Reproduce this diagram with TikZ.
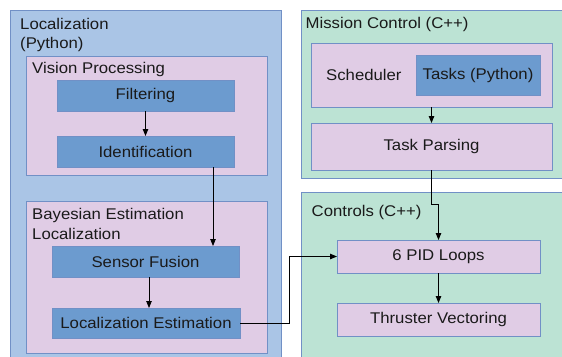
\documentclass[tikz,border=0pt]{standalone}
\usepackage{fontspec}
\setmainfont{Liberation Sans}[FakeStretch=1.08]
\usetikzlibrary{arrows.meta}
\definecolor{locblue}{HTML}{AAC5E6}
\definecolor{pinkbox}{HTML}{E0CCE5}
\definecolor{darkblue}{HTML}{6C9BCF}
\definecolor{greenbox}{HTML}{BCE3D4}
\definecolor{edge}{HTML}{7190C6}
\definecolor{txt}{HTML}{1A1A1A}
\tikzset{
  box/.style={draw=edge, line width=0.8pt, inner sep=0pt, outer sep=0pt, text=txt,
    font=\fontsize{15.5}{18}\selectfont},
  outerblue/.style={box, fill=locblue},
  outergreen/.style={box, fill=greenbox},
  pinkc/.style={box, fill=pinkbox},
  bluebox/.style={box, fill=darkblue},
  lbl/.style={anchor=base west, inner sep=0pt, text=txt, font=\fontsize{15.5}{18}\selectfont},
  arr/.style={draw=black, line width=0.8pt, -{Triangle[length=7pt,width=5.5pt]}},
  ln/.style={draw=black, line width=0.8pt}
}
\begin{document}
\begin{tikzpicture}[x=1pt,y=-1pt]
\useasboundingbox (0,0) rectangle (562,356);
\clip (0,0) rectangle (562,356);
% containers
\node[outerblue, minimum width=271pt, minimum height=360pt] (loc) at (145.5,190) {};
\node[outergreen, minimum width=274pt, minimum height=168.7pt] (mis) at (438,94.35) {};
\node[outergreen, minimum width=274pt, minimum height=180pt] (ctl) at (438,282.7) {};
\node[pinkc, minimum width=241pt, minimum height=119pt] (vis) at (146.5,115.5) {};
\node[pinkc, minimum width=241pt, minimum height=152pt] (bay) at (146.5,277) {};
\node[pinkc, minimum width=241pt, minimum height=64pt] (sched) at (431.5,75) {};
% container labels
\node[lbl] (locl1) at (20,29) {Localization};
\node[lbl] (locl2) at (20,48) {(Python)};
\node[lbl] (visl) at (32,73) {Vision Processing};
\node[lbl] (bayl1) at (32,219.5) {Bayesian Estimation};
\node[lbl] (bayl2) at (32,239) {Localization};
\node[lbl] (misl) at (305.5,28.5) {Mission Control (C++)};
\node[lbl] (ctll) at (311.5,216) {Controls (C++)};
\node[lbl] (schl) at (326,80) {Scheduler};
% boxes
\node[bluebox, minimum width=177pt, minimum height=31pt] (filt) at (145.5,95.5) {Filtering};
\node[bluebox, minimum width=177pt, minimum height=31pt] (ident) at (145.5,151.5) {Identification};
\node[bluebox, minimum width=187pt, minimum height=31pt] (sf) at (145.5,261.5) {Sensor Fusion};
\node[bluebox, minimum width=188pt, minimum height=30pt] (le) at (146,323) {Localization Estimation};
\node[bluebox, minimum width=124pt, minimum height=40pt] (tasks) at (478,75) {Tasks (Python)};
\node[pinkc, minimum width=241pt, minimum height=47pt] (tp) at (431.5,146.5) {Task Parsing};
\node[pinkc, minimum width=203pt, minimum height=33pt] (pid) at (438.5,256.5) {6 PID Loops};
\node[pinkc, minimum width=203pt, minimum height=33pt] (thr) at (438.5,319.5) {Thruster Vectoring};
% connectors
\coordinate (j1) at (431.5,204);
\coordinate (j2) at (289,323);
\draw[arr] (filt) -- (ident);
\draw[arr] ([xshift=67.5pt]ident.south) -- ([xshift=67.5pt]ident.south |- sf.north);
\draw[arr] ([xshift=3.5pt]sf.south) -- ([xshift=3.5pt]sf.south |- le.north);
\draw[arr] (sched) -- (tp);
\draw[arr] (tp.south) -- (j1) -| (pid.north);
\draw[arr] (le.east) -- (j2) |- (pid.west);
\draw[arr] (pid) -- (thr);
\end{tikzpicture}
\end{document}
